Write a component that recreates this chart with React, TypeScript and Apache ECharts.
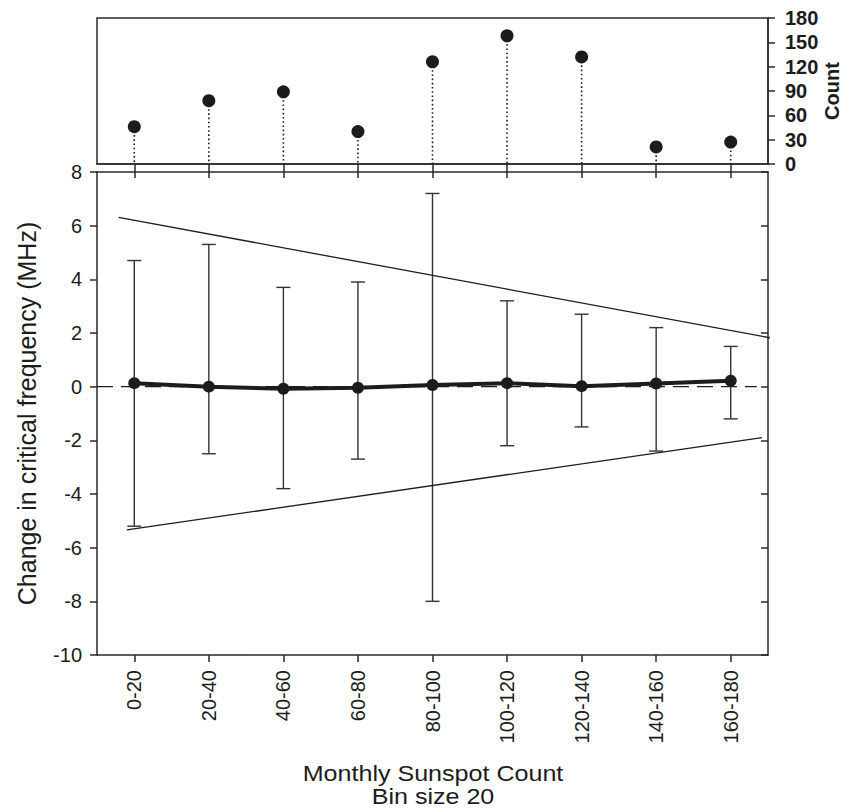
import React, { useEffect, useRef } from "react";
import * as echarts from "echarts";

// Sunspot-count bins shared by both panels
const categories = ["0-20", "20-40", "40-60", "60-80", "80-100", "100-120", "120-140", "140-160", "160-180"];

// Number of samples in each bin (upper panel)
const counts = [46, 78, 89, 40, 126, 158, 132, 21, 27];

// Mean change in critical frequency per bin (MHz) and its error-bar limits
const meanChange = [0.13, 0.0, -0.08, -0.04, 0.06, 0.13, 0.02, 0.12, 0.22];
const upperError = [4.7, 5.3, 3.7, 3.9, 7.2, 3.2, 2.7, 2.2, 1.5];
const lowerError = [-5.2, -2.5, -3.8, -2.7, -8.0, -2.2, -1.5, -2.4, -1.2];

// Envelope lines, as [bin position, MHz] end points
const upperEnvelope = [[-0.21, 6.31], [8.57, 1.8]];
const lowerEnvelope = [[-0.1, -5.34], [8.42, -1.9]];
const zeroReference = [[-0.5, 0], [8.35, 0]];

// Axis ranges
const countAxis = { min: 0, max: 180, interval: 30 };
const changeAxis = { min: -10, max: 8, interval: 2 };

// Two-line horizontal axis title
const xTitleLines = ["Monthly Sunspot Count", "Bin size 20"];

const FONT = '"Liberation Sans", Arial, Helvetica, sans-serif';
const INK = "#1c1c1c";
const AXIS = "#2a2a2a";

export default function App() {
  const ref = useRef<HTMLDivElement>(null);

  useEffect(() => {
    if (!ref.current) return;
    const chart = echarts.init(ref.current, null, { renderer: "svg" });

    const axisLine = { show: true, onZero: false, lineStyle: { color: AXIS, width: 1.5 } };

    const option = {
      animation: false,
      backgroundColor: "#ffffff",
      grid: [
        {
          left: 97, right: 78, top: 18, height: 146, show: true, borderColor: AXIS, borderWidth: 1.5,
          backgroundColor: "transparent", containLabel: false, outerBoundsMode: "none",
        },
        { left: 97, right: 78, top: 172, height: 483, containLabel: false, outerBoundsMode: "none" },
      ],
      xAxis: [
        {
          type: "category", gridIndex: 0, data: categories, position: "bottom",
          axisLine, axisTick: { show: true, alignWithLabel: true, inside: false, length: 8, lineStyle: { color: AXIS, width: 1.5 } },
          axisLabel: { show: false }, splitLine: { show: false },
        },
        {
          type: "category", gridIndex: 1, data: categories, position: "bottom",
          axisLine, axisTick: { show: true, alignWithLabel: true, inside: false, length: 7, lineStyle: { color: AXIS, width: 1.5 } },
          axisLabel: { show: true, rotate: 90, margin: 15, fontSize: 20, fontFamily: FONT, color: INK },
          splitLine: { show: false },
        },
        {
          type: "category", gridIndex: 1, data: categories, position: "top",
          axisLine, axisTick: { show: true, alignWithLabel: true, inside: true, length: 6, lineStyle: { color: AXIS, width: 1.5 } },
          axisLabel: { show: false }, splitLine: { show: false },
        },
        { type: "value", gridIndex: 1, min: -0.5, max: 8.5, show: false },
      ],
      yAxis: [
        {
          type: "value", gridIndex: 0, position: "right", ...countAxis,
          axisLine, axisTick: { show: true, inside: false, length: 7, lineStyle: { color: AXIS, width: 1.5 } },
          axisLabel: { show: true, margin: 17, fontSize: 20, fontWeight: "bold", fontFamily: FONT, color: INK },
          splitLine: { show: false },
          name: "Count", nameLocation: "middle", nameRotate: 90, nameGap: 54, nameMoveOverlap: false,
          nameTextStyle: { fontSize: 20, fontWeight: "bold", fontFamily: FONT, color: INK },
        },
        {
          type: "value", gridIndex: 1, position: "left", ...changeAxis,
          axisLine, axisTick: { show: true, inside: false, length: 7, lineStyle: { color: AXIS, width: 1.5 } },
          axisLabel: { show: true, margin: 15, fontSize: 20, fontFamily: FONT, color: INK },
          splitLine: { show: false },
          name: "Change in critical frequency (MHz)", nameLocation: "middle", nameRotate: 90, nameGap: 58,
          nameTextStyle: { fontSize: 25, fontFamily: FONT, color: INK },
        },
        {
          type: "value", gridIndex: 1, position: "right", ...changeAxis,
          axisLine, axisTick: { show: true, inside: true, length: 7, lineStyle: { color: AXIS, width: 1.5 } },
          axisLabel: { show: false }, splitLine: { show: false },
        },
      ],
      graphic: xTitleLines.map((line, k) => ({
        type: "text", x: 433, y: 774 + k * 23, scaleX: 1.14,
        style: {
          text: line, fontSize: 22, fontFamily: FONT, fill: INK,
          textAlign: "center", textVerticalAlign: "middle",
        },
      })),
      series: [
        // dotted stems under the count markers
        {
          type: "custom", xAxisIndex: 0, yAxisIndex: 0,
          data: counts.map((v, i) => [i, v]),
          encode: { x: 0, y: 1 },
          renderItem: (params: any, api: any) => {
            const i = api.value(0);
            const top = api.coord([i, api.value(1)]);
            const base = api.coord([i, 0]);
            return {
              type: "line",
              shape: { x1: top[0], y1: top[1], x2: base[0], y2: base[1] },
              style: { stroke: INK, lineWidth: 1.6, lineDash: [1.6, 2.6] },
            };
          },
          silent: true,
        },
        {
          type: "scatter", xAxisIndex: 0, yAxisIndex: 0,
          data: counts, symbol: "circle", symbolSize: 13,
          itemStyle: { color: INK, opacity: 1 }, z: 5,
        },
        // error bars
        {
          type: "custom", xAxisIndex: 1, yAxisIndex: 1,
          data: categories.map((_, i) => [i, lowerError[i], upperError[i]]),
          encode: { x: 0, y: [1, 2] },
          renderItem: (params: any, api: any) => {
            const i = api.value(0);
            const lo = api.coord([i, api.value(1)]);
            const hi = api.coord([i, api.value(2)]);
            const hw = 7;
            const style = { stroke: "#333333", lineWidth: 1.4 };
            return {
              type: "group",
              children: [
                { type: "line", shape: { x1: lo[0], y1: lo[1], x2: hi[0], y2: hi[1] }, style },
                { type: "line", shape: { x1: hi[0] - hw, y1: hi[1], x2: hi[0] + hw, y2: hi[1] }, style },
                { type: "line", shape: { x1: lo[0] - hw, y1: lo[1], x2: lo[0] + hw, y2: lo[1] }, style },
              ],
            };
          },
          silent: true,
        },
        {
          type: "line", xAxisIndex: 3, yAxisIndex: 1, data: upperEnvelope, clip: false,
          symbol: "none", lineStyle: { color: INK, width: 1.3 },
        },
        {
          type: "line", xAxisIndex: 3, yAxisIndex: 1, data: lowerEnvelope, clip: false,
          symbol: "none", lineStyle: { color: INK, width: 1.3 },
        },
        {
          type: "line", xAxisIndex: 3, yAxisIndex: 1, data: zeroReference,
          symbol: "none", lineStyle: { color: INK, width: 1.3, type: [16, 8] },
        },
        {
          type: "line", xAxisIndex: 1, yAxisIndex: 1, data: meanChange,
          symbol: "circle", symbolSize: 12, itemStyle: { color: INK, opacity: 1 },
          lineStyle: { color: INK, width: 4 }, z: 6,
        },
      ],
    };

    chart.setOption(option as any);
    return () => chart.dispose();
  }, []);

  return (
    <div
      ref={ref}
      style={{ position: "fixed", left: 0, top: 0, width: 846, height: 811, background: "#fff" }}
    />
  );
}
